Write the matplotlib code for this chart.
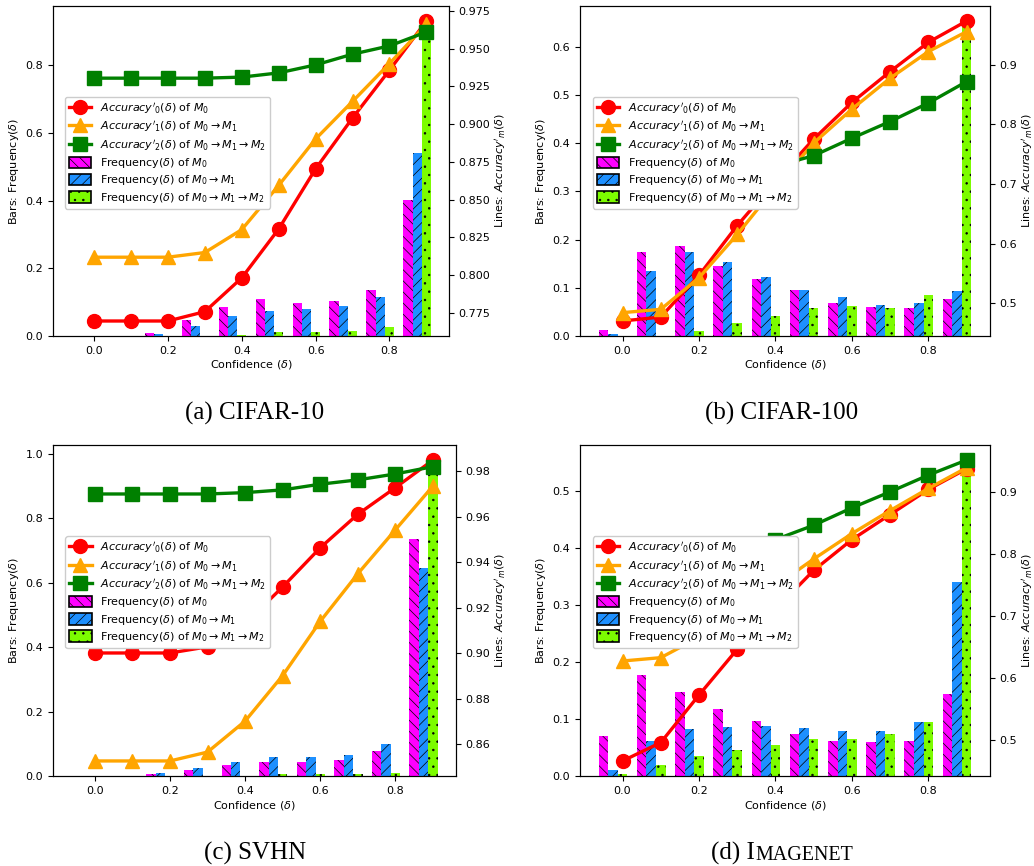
import matplotlib
matplotlib.use("Agg")
import matplotlib.pyplot as plt
from matplotlib.lines import Line2D
from matplotlib.patches import Patch
import numpy as np

# ---------------- data ----------------
conf = [0.0, 0.1, 0.2, 0.3, 0.4, 0.5, 0.6, 0.7, 0.8, 0.9]

# CIFAR-10
c10_acc0 = [0.7695, 0.7695, 0.7695, 0.7757, 0.7981, 0.8305, 0.8704, 0.9041, 0.9358, 0.9684]
c10_acc1 = [0.8118, 0.8118, 0.8118, 0.8149, 0.8301, 0.8594, 0.8902, 0.9151, 0.9402, 0.9662]
c10_acc2 = [0.9305, 0.9305, 0.9305, 0.9305, 0.9312, 0.9340, 0.9393, 0.9464, 0.9519, 0.9611]
c10_freq0 = [0.0, 0.0, 0.010, 0.047, 0.086, 0.109, 0.097, 0.103, 0.136, 0.402]
c10_freq1 = [0.0, 0.0, 0.006, 0.030, 0.059, 0.074, 0.080, 0.089, 0.115, 0.540]
c10_freq2 = [0.0, 0.0, 0.0, 0.0, 0.003, 0.012, 0.012, 0.015, 0.026, 0.928]

# CIFAR-100
c100_acc0 = [0.4704, 0.4771, 0.5469, 0.6305, 0.7050, 0.7756, 0.8370, 0.8888, 0.9379, 0.9736]
c100_acc1 = [0.4844, 0.4900, 0.5430, 0.6155, 0.6950, 0.7689, 0.8258, 0.8777, 0.9223, 0.9558]
c100_acc2 = [0.7150, 0.7150, 0.7160, 0.7200, 0.7300, 0.7477, 0.7770, 0.8050, 0.8360, 0.8720]
c100_freq0 = [0.0124, 0.1735, 0.1866, 0.1452, 0.1182, 0.0954, 0.0684, 0.0601, 0.0581, 0.0767]
c100_freq1 = [0.0040, 0.1348, 0.1735, 0.1535, 0.1223, 0.0954, 0.0809, 0.0643, 0.0684, 0.0933]
c100_freq2 = [0.0, 0.0, 0.0104, 0.0270, 0.0415, 0.0580, 0.0622, 0.0580, 0.0850, 0.6520]

# SVHN
svhn_acc0 = [0.9001, 0.9001, 0.9001, 0.9028, 0.9130, 0.9291, 0.9463, 0.9610, 0.9727, 0.9848]
svhn_acc1 = [0.8527, 0.8527, 0.8527, 0.8566, 0.8702, 0.8902, 0.9140, 0.9349, 0.9542, 0.9734]
svhn_acc2 = [0.9699, 0.9699, 0.9699, 0.9699, 0.9705, 0.9717, 0.9742, 0.9761, 0.9787, 0.9819]
svhn_freq0 = [0.0, 0.0, 0.0052, 0.0186, 0.0342, 0.0435, 0.0435, 0.0497, 0.0776, 0.735]
svhn_freq1 = [0.0, 0.0, 0.0093, 0.0248, 0.0435, 0.0590, 0.0590, 0.0652, 0.0994, 0.646]
svhn_freq2 = [0.0, 0.0, 0.0, 0.0, 0.0, 0.005, 0.005, 0.006, 0.009, 0.979]

# ImageNet
imnet_acc0 = [0.4654, 0.4951, 0.5718, 0.6457, 0.7100, 0.7731, 0.8228, 0.8633, 0.9038, 0.9372]
imnet_acc1 = [0.6268, 0.6322, 0.6650, 0.7050, 0.7480, 0.7915, 0.8325, 0.8698, 0.9054, 0.9389]
imnet_acc2 = [0.7600, 0.7700, 0.7850, 0.8020, 0.8228, 0.8460, 0.8741, 0.9000, 0.9270, 0.9513]
imnet_freq0 = [0.0703, 0.1776, 0.1477, 0.1178, 0.0967, 0.0739, 0.0616, 0.0598, 0.0616, 0.1442]
imnet_freq1 = [0.0106, 0.0616, 0.0827, 0.0862, 0.0879, 0.0844, 0.0791, 0.0791, 0.0950, 0.3411]
imnet_freq2 = [0.0035, 0.0193, 0.0352, 0.0457, 0.0545, 0.0650, 0.0650, 0.0739, 0.0950, 0.5540]

line_labels = [r"$Accuracy'_0(\delta)$ of $M_0$",
               r"$Accuracy'_1(\delta)$ of $M_0\rightarrow M_1$",
               r"$Accuracy'_2(\delta)$ of $M_0\rightarrow M_1\rightarrow M_2$"]
bar_labels = [r"Frequency($\delta$) of $M_0$",
              r"Frequency($\delta$) of $M_0\rightarrow M_1$",
              r"Frequency($\delta$) of $M_0\rightarrow M_1\rightarrow M_2$"]

panels = [
    ("(a) CIFAR-10", c10_acc0, c10_acc1, c10_acc2, c10_freq0, c10_freq1, c10_freq2),
    ("(b) CIFAR-100", c100_acc0, c100_acc1, c100_acc2, c100_freq0, c100_freq1, c100_freq2),
    ("(c) SVHN", svhn_acc0, svhn_acc1, svhn_acc2, svhn_freq0, svhn_freq1, svhn_freq2),
    ("(d) IMAGENET", imnet_acc0, imnet_acc1, imnet_acc2, imnet_freq0, imnet_freq1, imnet_freq2),
]

# ---------------- style ----------------
plt.rcParams['hatch.linewidth'] = 0.5
plt.rcParams['font.size'] = 8
line_colors = ['red', 'orange', 'green']
line_markers = ['o', '^', 's']
bar_colors = ['#FF00FF', '#1E90FF', '#7CFC00']
bar_hatches = ['\\\\\\', '///', '..']
bar_offsets = [-0.05, -0.025, 0.0]
bar_width = 0.025

W, H = 1034, 866
fig = plt.figure(figsize=(W / 100, H / 100), dpi=100)

# axes rectangles in pixels: left, top, right, bottom
rects = [(53, 6, 449, 336), (580, 6, 990, 336), (53, 445, 456, 776), (580, 445, 990, 776)]
caption_pos = [(255, 420), (782, 420), (255, 860), (782, 860)]

x = np.array(conf)
for (title, a0, a1, a2, f0, f1, f2), (l, t, r, b) in zip(panels, rects):
    ax1 = fig.add_axes([l / W, (H - b) / H, (r - l) / W, (b - t) / H])
    for vals, col, hat, off in zip([f0, f1, f2], bar_colors, bar_hatches, bar_offsets):
        ax1.bar(x + off, vals, width=bar_width, color=col, hatch=hat,
                edgecolor='black', linewidth=0)
    ax1.set_ylabel(r"Bars: Frequency($\delta$)", labelpad=3)
    ax1.set_xlabel(r"Confidence ($\delta$)", labelpad=2)
    ax1.set_xticks([0.0, 0.2, 0.4, 0.6, 0.8])
    ax2 = ax1.twinx()
    for vals, col, mk in zip([a0, a1, a2], line_colors, line_markers):
        ax2.plot(x, vals, color=col, marker=mk, markersize=10, linewidth=2.4)
    ax2.set_ylabel(r"Lines: $Accuracy'_m(\delta)$", labelpad=1.5)
    for a in (ax1, ax2):
        a.tick_params(labelsize=8)

    handles = [Line2D([], [], color=c, marker=m, markersize=10, linewidth=2.4)
               for c, m in zip(line_colors, line_markers)]
    handles += [Patch(facecolor=c, edgecolor='black', hatch=h, linewidth=1.2)
                for c, h in zip(bar_colors, bar_hatches)]
    ax2.legend(handles, line_labels + bar_labels, loc='upper left',
               bbox_to_anchor=(0.031, 0.724), borderaxespad=0, fontsize=8,
               framealpha=1, handleheight=1.2, labelspacing=0.3,
               borderpad=0.35)

# captions
serif = 'Liberation Serif'
for (title, *_), (cx, cy) in zip(panels, caption_pos):
    if title.endswith("IMAGENET"):
        t1 = fig.text(0, 0, "(d) I", fontsize=18, family=serif)
        t2 = fig.text(0, 0, "MAGENET", fontsize=14.4, family=serif)
        fig.canvas.draw()
        rnd = fig.canvas.get_renderer()
        w1 = t1.get_window_extent(rnd).width
        w2 = t2.get_window_extent(rnd).width
        x0 = cx - (w1 + w2) / 2
        t1.set_position((x0 / W, (H - cy) / H))
        t2.set_position(((x0 + w1) / W, (H - cy) / H))
    else:
        fig.text(cx / W, (H - cy) / H, title, fontsize=18, family=serif,
                 ha='center', va='baseline')

fig.savefig("out.png", dpi=100)
